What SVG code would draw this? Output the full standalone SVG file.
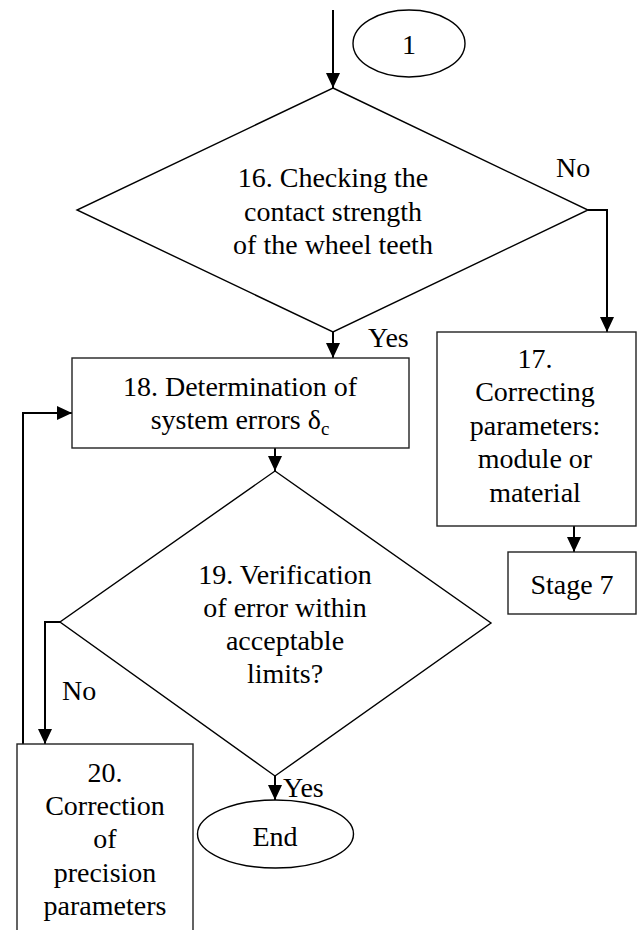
<svg xmlns="http://www.w3.org/2000/svg" width="643" height="930" viewBox="0 0 643 930">
<style>
.shape{fill:#fff;stroke:#000;stroke-width:1.4}
.box{fill:#fff;stroke:#222;stroke-width:1.4}
.conn{fill:none;stroke:#000;stroke-width:2}
.c{text-anchor:middle}
</style>
<defs>
<marker id="arr" viewBox="0 0 15 14" refX="15" refY="7" markerWidth="15" markerHeight="14" markerUnits="userSpaceOnUse" orient="auto">
<path d="M0,0 L15,7 L0,14 z" fill="#000"/>
</marker>
</defs>
<rect width="643" height="930" fill="#fff"/>
<g font-family="'Liberation Serif', 'DejaVu Serif', serif" font-size="28" fill="#000">
<g id="connectors">
<path class="conn" d="M333,10 V88" marker-end="url(#arr)"/>
<path class="conn" d="M588,210 H607 V332" marker-end="url(#arr)"/>
<path class="conn" d="M333,332 V358" marker-end="url(#arr)"/>
<path class="conn" d="M275,448 V471" marker-end="url(#arr)"/>
<path class="conn" d="M574,526 V552" marker-end="url(#arr)"/>
<path class="conn" d="M60,622 H45 V744" marker-end="url(#arr)"/>
<path class="conn" d="M23,744 V413 H72" marker-end="url(#arr)"/>
<path class="conn" d="M275,776 V800" marker-end="url(#arr)"/>
<text x="556" y="177">No</text>
<text x="368" y="347">Yes</text>
<text x="62" y="700">No</text>
<text x="283" y="797">Yes</text>
</g>
<g id="n1">
<ellipse class="shape" cx="409" cy="43.5" rx="56" ry="33.5"/>
<text class="c" x="409" y="54">1</text>
</g>
<g id="n16">
<polygon class="shape" points="333,88 588,210 333,332 77,210"/>
<text class="c" x="333" y="187">16. Checking the</text>
<text class="c" x="333" y="221">contact strength</text>
<text class="c" x="333" y="254">of the wheel teeth</text>
</g>
<g id="n17">
<rect class="box" x="437" y="332" width="199" height="194"/>
<text class="c" x="535" y="368">17.</text>
<text class="c" x="535" y="401">Correcting</text>
<text class="c" x="535" y="435">parameters:</text>
<text class="c" x="535" y="468">module or</text>
<text class="c" x="535" y="502">material</text>
</g>
<g id="stage7">
<rect class="box" x="508" y="552" width="128" height="62"/>
<text class="c" x="572" y="594">Stage 7</text>
</g>
<g id="n18">
<rect class="box" x="72" y="358" width="337" height="90"/>
<text class="c" x="240" y="396">18. Determination of</text>
<text class="c" x="240" y="429">system errors δ<tspan font-size="19" dy="6">c</tspan></text>
</g>
<g id="n19">
<polygon class="shape" points="275,471 491,623 275,776 60,622"/>
<text class="c" x="285" y="584">19. Verification</text>
<text class="c" x="285" y="617">of error within</text>
<text class="c" x="285" y="650">acceptable</text>
<text class="c" x="285" y="683">limits?</text>
</g>
<g id="n20">
<rect class="box" x="17" y="744" width="176" height="200"/>
<text class="c" x="105" y="782">20.</text>
<text class="c" x="105" y="815">Correction</text>
<text class="c" x="105" y="848">of</text>
<text class="c" x="105" y="882">precision</text>
<text class="c" x="105" y="915">parameters</text>
</g>
<g id="end">
<ellipse class="shape" cx="275.5" cy="834" rx="78" ry="34"/>
<text class="c" x="275" y="846">End</text>
</g>
</g>
</svg>
